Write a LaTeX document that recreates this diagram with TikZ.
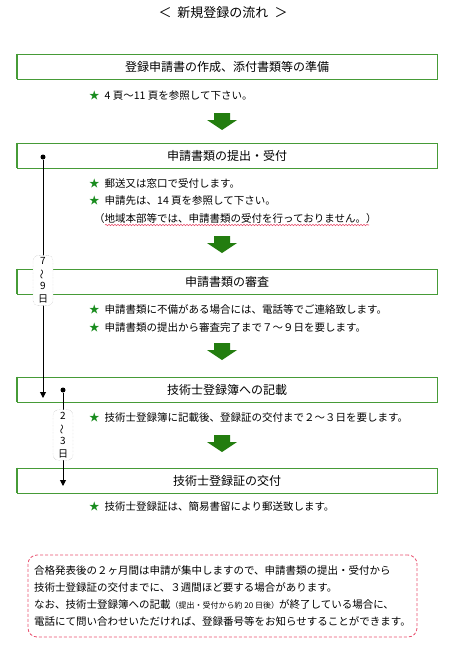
\documentclass[tikz,border=0pt]{standalone}
\usepackage{fontspec}
\setmainfont{Noto Sans CJK JP}
\usepackage{xcolor}
\usepackage{tikz}
\usetikzlibrary{arrows.meta,positioning,decorations.pathmorphing}
\definecolor{boxgreen}{RGB}{70,155,55}
\definecolor{arrowgreen}{RGB}{35,125,15}
\definecolor{stargreen}{RGB}{25,140,30}
\definecolor{remarkred}{RGB}{232,80,110}
\tikzset{
  stepbox/.style={draw=boxgreen, line width=0.8pt, minimum width=420pt, minimum height=25pt, inner sep=0pt, font=\fontsize{12}{14}\selectfont},
  note/.style={anchor=west, inner sep=0pt, font=\fontsize{10.5}{12}\selectfont},
  daybox/.style={draw=gray!60, densely dotted, rounded corners=5pt, fill=white, align=center, inner xsep=1pt, inner ysep=2.5pt, minimum width=20pt, font=\fontsize{10}{12.5}\selectfont},
  period/.style={-{Triangle[length=6pt, width=6pt]}, line width=1pt},
  startdot/.style={circle, fill=black, inner sep=0pt, minimum size=5pt},
  remark/.style={draw=remarkred, dash pattern=on 3pt off 2pt, line width=0.8pt, rounded corners=9pt, align=left, minimum width=389pt, minimum height=82pt, font=\fontsize{10.5}{16.8}\selectfont},
  flowarrow/.style={fill=arrowgreen},
  wavy/.style={remarkred, line width=0.6pt, decorate, decoration={snake, amplitude=0.7pt, segment length=3pt}},
}
\newcommand{\gstar}{{\color{stargreen}★}\hspace{5pt}}
\newcommand{\vtilde}{\rotatebox[origin=c]{90}{～}}

\begin{document}
\begin{tikzpicture}[x=1pt, y=-1pt]
\useasboundingbox (0,0) rectangle (449,645);
\node[font=\fontsize{13}{15}\selectfont] (title) at (223,13) {＜\hspace{6pt}新規登録の流れ\hspace{6pt}＞};

\node[stepbox] (s1) at (227,66.5) {登録申請書の作成、添付書類等の準備};
\node[stepbox] (s2) at (227,155.5) {申請書類の提出・受付};
\node[stepbox] (s3) at (227,281.5) {申請書類の審査};
\node[stepbox] (s4) at (227,389.5) {技術士登録簿への記載};
\node[stepbox] (s5) at (227,480.5) {技術士登録証の交付};
\foreach \s in {s1,s2,s3,s4,s5}
  \draw[boxgreen, line width=1.8pt] (\s.north west) -- (\s.south west);

\foreach \y in {113,236,343,435}
  \fill[flowarrow] (214,\y) -- (230,\y) -- (230,\y+7) -- (237,\y+7) -- (222,\y+17) -- (207,\y+7) -- (214,\y+7) -- cycle;

\node[note] (n1) at (89,96) {\gstar 4 頁～11 頁を参照して下さい。};
\node[note] (n2a) at (89,184) {\gstar 郵送又は窓口で受付します。};
\node[note] (n2b) at (89,201) {\gstar 申請先は、14 頁を参照して下さい。};
\node[note] (n2c) at (94,219) {（地域本部等では、申請書類の受付を行っておりません。）};
\draw[wavy] (105,225) -- (369,225);
\node[note] (n3a) at (89,309) {\gstar 申請書類に不備がある場合には、電話等でご連絡致します。};
\node[note] (n3b) at (89,328) {\gstar 申請書類の提出から審査完了まで７～９日を要します。};
\node[note] (n4) at (89,418) {\gstar 技術士登録簿に記載後、登録証の交付まで２～３日を要します。};
\node[note] (n5) at (89,507) {\gstar 技術士登録証は、簡易書留により郵送致します。};

\node[startdot] (d1) at (43,157) {};
\coordinate (e1) at (43,398);
\draw[period] (d1) -- (e1);
\node[daybox] (t1) at (43,280.5) {7\\\vtilde\\9\\日};
\node[startdot] (d2) at (63,390) {};
\coordinate (e2) at (63,486);
\draw[period] (d2) -- (e2);
\node[daybox] (t2) at (63,435) {2\\\vtilde\\3\\日};

\node[remark] (r) at (222.5,596) {合格発表後の２ヶ月間は申請が集中しますので、申請書類の提出・受付から\\技術士登録証の交付までに、３週間ほど要する場合があります。\\なお、技術士登録簿への記載{\fontsize{8}{9}\selectfont（提出・受付から約 20 日後）}が終了している場合に、\\電話にて問い合わせいただければ、登録番号等をお知らせすることができます。};
\end{tikzpicture}
\end{document}
